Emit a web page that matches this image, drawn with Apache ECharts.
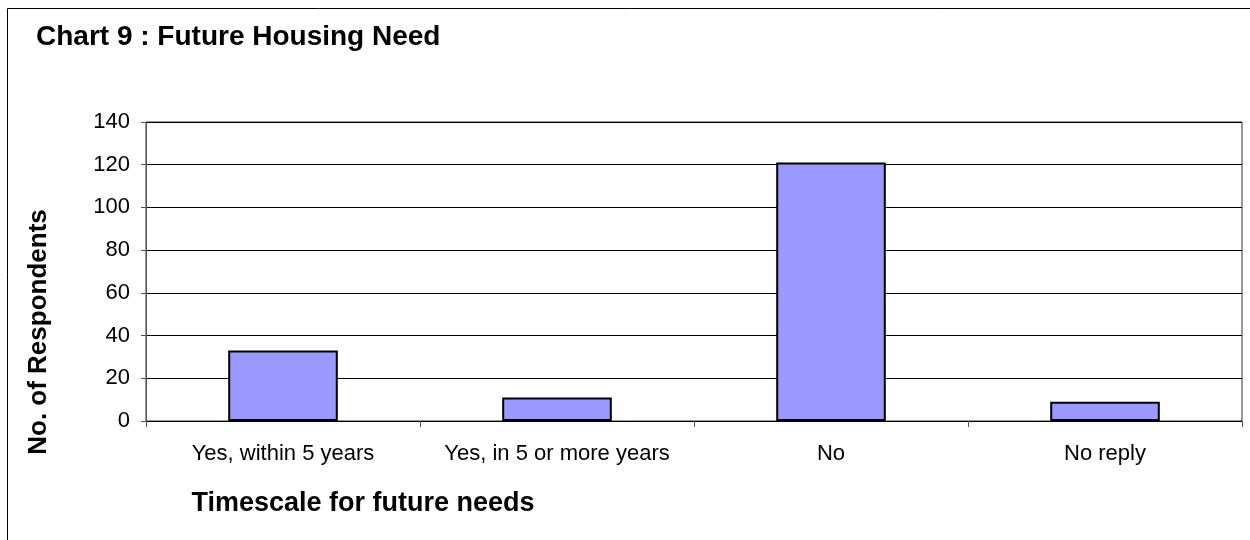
<!DOCTYPE html>
<html>
<head>
<meta charset="utf-8">
<script src="https://cdn.jsdelivr.net/npm/echarts@6/dist/echarts.min.js"></script>
<style>
  html, body { margin: 0; padding: 0; background: #ffffff; }
  #chart { width: 1250px; height: 540px; }
</style>
</head>
<body>
<div id="chart"></div>
<script>
// Survey answers: when respondents expect to need housing
const categories = ['Yes, within 5 years', 'Yes, in 5 or more years', 'No', 'No reply'];
const respondents = [33, 11, 121, 9];
const yTicks = { min: 0, max: 140, interval: 20 };

const chartTitle = 'Chart 9 : Future Housing Need';
const yAxisTitle = 'No. of Respondents';
const xAxisTitle = 'Timescale for future needs';

const font = 'Arial, "Liberation Sans", Helvetica, sans-serif';

const chart = echarts.init(document.getElementById('chart'), null, { renderer: 'canvas' });

chart.setOption({
  animation: false,
  backgroundColor: '#ffffff',
  grid: {
    left: 146, right: 8, top: 122, bottom: 119, containLabel: false,
    show: true, borderColor: '#333333', borderWidth: 1, backgroundColor: 'transparent'
  },
  graphic: [
    {
      type: 'rect',
      shape: { x: 7.5, y: 8.5, width: 1300, height: 600 },
      style: { fill: 'none', stroke: '#000000', lineWidth: 1 },
      silent: true
    },
    {
      type: 'text',
      x: 36, y: 37,
      style: {
        text: chartTitle, font: 'bold 28px ' + font, fill: '#000000',
        align: 'left', verticalAlign: 'middle'
      }
    },
    {
      type: 'text',
      x: 39, y: 332,
      rotation: Math.PI / 2,
      style: {
        text: yAxisTitle, font: 'bold 26px ' + font, fill: '#000000',
        align: 'center', verticalAlign: 'middle'
      }
    },
    {
      type: 'text',
      x: 363, y: 504,
      style: {
        text: xAxisTitle, font: 'bold 27px ' + font, fill: '#000000',
        align: 'center', verticalAlign: 'middle'
      }
    }
  ],
  xAxis: {
    type: 'category',
    data: categories,
    axisLine: { show: true, lineStyle: { color: '#000000', width: 1 } },
    axisTick: { show: true, alignWithLabel: false, length: 6, lineStyle: { color: '#555555' } },
    axisLabel: { interval: 0, color: '#000000', fontSize: 22, fontFamily: font, margin: 22 },
    splitLine: { show: false }
  },
  yAxis: {
    type: 'value',
    min: yTicks.min, max: yTicks.max, interval: yTicks.interval,
    axisLine: { show: true, lineStyle: { color: '#555555', width: 1 } },
    axisTick: { show: true, length: 5, lineStyle: { color: '#555555' } },
    axisLabel: { color: '#000000', fontSize: 22, fontFamily: font, margin: 16 },
    splitLine: { show: true, lineStyle: { color: '#000000', width: 1 } }
  },
  series: [{
    type: 'bar',
    data: respondents,
    barWidth: '40%',
    itemStyle: { color: '#9999FF', borderColor: '#000000', borderWidth: 2 }
  }]
});
</script>
</body>
</html>
